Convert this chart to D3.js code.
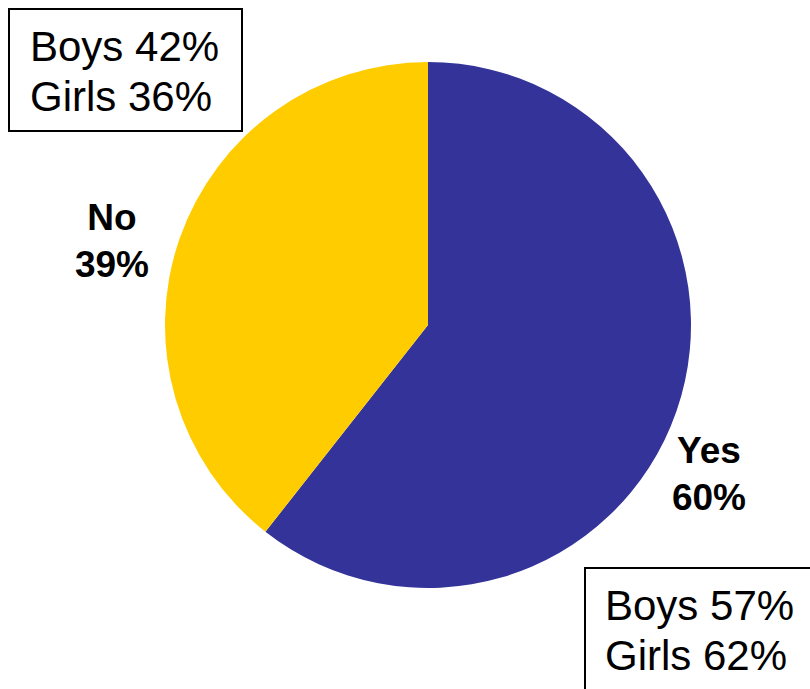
<!DOCTYPE html>
<html>
<head>
<meta charset="utf-8">
<script src="https://cdn.jsdelivr.net/npm/d3@7"></script>
<style>
  body { margin: 0; background: #fff; }
  svg { display: block; }
</style>
</head>
<body>
<script>
// pie data
const answers = ['Yes', 'No'];
const shares = [60, 39];
const colors = ['#333399', '#FFCC00'];
// breakdown boxes
const boysGirls = [['Boys 57%', 'Girls 62%'], ['Boys 42%', 'Girls 36%']];

const width = 810
const height = 689
const cx = 428
const cy = 325
const radius = 263

const svg = d3.select('body')
    .append('svg')
    .attr('width', width)
    .attr('height', height);

const pie = d3.pie().sort(null).value(d => d.v);
const arc = d3.arc().innerRadius(0).outerRadius(radius);

const slices = pie(answers.map((a, i) => ({ a: a, v: shares[i], c: colors[i] })));

svg.append('g')
    .attr('transform', `translate(${cx},${cy})`)
    .selectAll('path')
    .data(slices)
    .enter()
    .append('path')
    .attr('d', arc)
    .attr('fill', d => d.data.c);

// slice labels (bold, outside the pie)
const labelPos = [[709, 463], [112, 230]];
const lineGap = 47;

slices.forEach((s, i) => {
    const t = svg.append('text')
        .attr('x', labelPos[i][0])
        .attr('y', labelPos[i][1])
        .attr('text-anchor', 'middle')
        .attr('font-family', 'Liberation Sans, Arial, sans-serif')
        .attr('font-weight', 'bold')
        .attr('font-size', '37px')
        .attr('fill', '#000');
    t.append('tspan').attr('x', labelPos[i][0]).text(s.data.a);
    t.append('tspan').attr('x', labelPos[i][0]).attr('dy', lineGap).text(s.data.v + '%');
});

// boxes with boys / girls split
const boxes = [
    { x: 585, y: 568, w: 240, h: 140, tx: 605, ty: 620 },
    { x: 9, y: 9, w: 233, h: 122, tx: 30, ty: 61 }
];

boxes.forEach((b, i) => {
    svg.append('rect')
        .attr('x', b.x)
        .attr('y', b.y)
        .attr('width', b.w)
        .attr('height', b.h)
        .attr('fill', '#fff')
        .attr('stroke', '#000')
        .attr('stroke-width', 2);

    const t = svg.append('text')
        .attr('x', b.tx)
        .attr('y', b.ty)
        .attr('font-family', 'Liberation Sans, Arial, sans-serif')
        .attr('font-size', '42px')
        .attr('fill', '#000');
    boysGirls[i].forEach((line, j) => {
        t.append('tspan')
            .attr('x', b.tx)
            .attr('dy', j === 0 ? 0 : 50)
            .text(line);
    });
});
</script>
</body>
</html>
